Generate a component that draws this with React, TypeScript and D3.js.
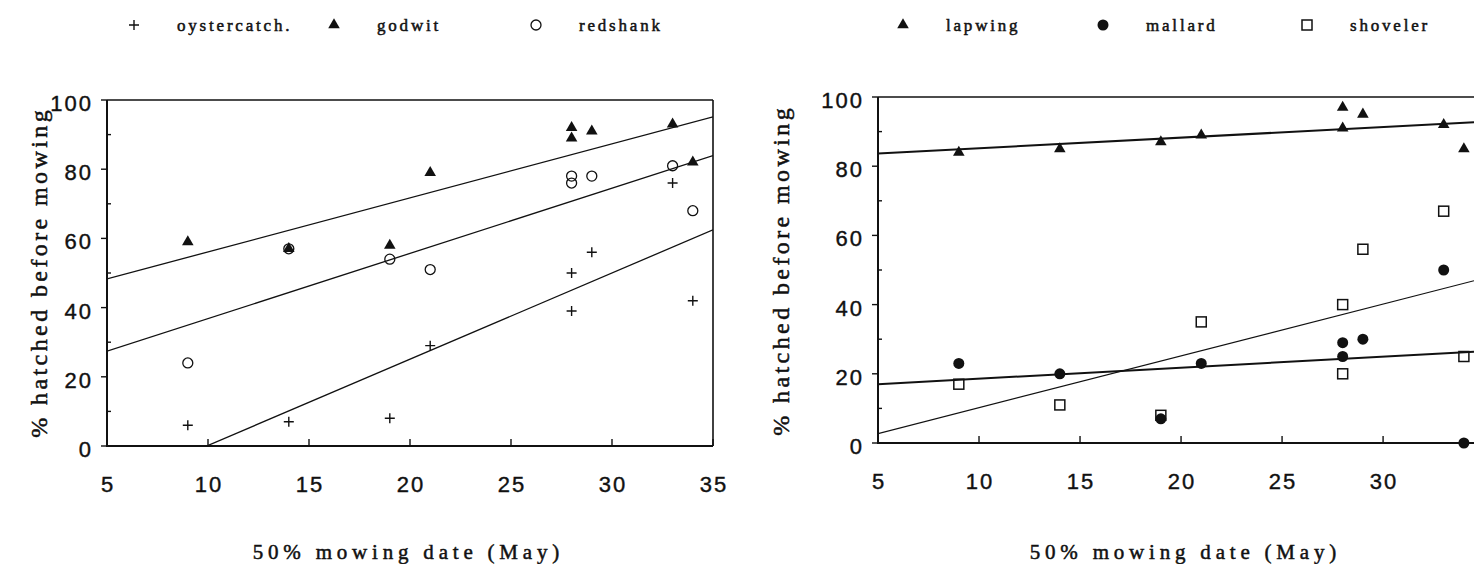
import React, { useEffect, useRef } from 'react';
import * as d3 from 'd3';

// 50% mowing date (May) of each site, shared by both panels
const mowDates = [9, 14, 19, 21, 28, 28, 29, 33, 34];

// % hatched before mowing, left panel
const oystercatcher = [6, 7, 8, 29, 50, 39, 56, 76, 42];
const godwit = [59, 57, 58, 79, 92, 89, 91, 93, 82];
const redshank = [24, 57, 54, 51, 78, 76, 78, 81, 68];

// % hatched before mowing, right panel
const lapwing = [84, 85, 87, 89, 97, 91, 95, 92, 85];
const mallard = [23, 20, 7, 23, 29, 25, 30, 50, 0];
const shoveler = [17, 11, 8, 35, 40, 20, 56, 67, 25];

const xTicksLeft = [5, 10, 15, 20, 25, 30, 35];
const xTicksRight = [5, 10, 15, 20, 25, 30];
const yTicks = [0, 20, 40, 60, 80, 100];
const yMinorTicks = [10, 30, 50, 70, 90];

const SERIF = '"Liberation Serif", "Times New Roman", serif';
const SANS = '"Liberation Sans", Arial, sans-serif';

type Series = { name: string; values: number[]; marker: string; lineWidth: number };

type Panel = {
  id: string;
  left: number;
  right: number;
  top: number;
  bottom: number;
  xDomain: [number, number];
  xTicks: number[];
  rightBorder: boolean;
  series: Series[];
  yTitleX: number;
  yTitleY: number;
  xTitleX: number;
  legendX: number[];
};

const panels: Panel[] = [
  {
    id: 'left',
    left: 107, right: 713, top: 100, bottom: 446,
    xDomain: [5, 35],
    xTicks: xTicksLeft,
    rightBorder: true,
    series: [
      { name: 'oystercatch.', values: oystercatcher, marker: 'plus', lineWidth: 1.3 },
      { name: 'godwit', values: godwit, marker: 'triangle', lineWidth: 1.3 },
      { name: 'redshank', values: redshank, marker: 'circle', lineWidth: 1.3 },
    ],
    yTitleX: 47, yTitleY: 274,
    xTitleX: 406,
    legendX: [134, 334, 536],
  },
  {
    id: 'right',
    left: 878, right: 1474, top: 97, bottom: 443,
    xDomain: [5, 34.5],
    xTicks: xTicksRight,
    rightBorder: false,
    series: [
      { name: 'lapwing', values: lapwing, marker: 'triangle', lineWidth: 2 },
      { name: 'mallard', values: mallard, marker: 'dot', lineWidth: 2 },
      { name: 'shoveler', values: shoveler, marker: 'square', lineWidth: 1.2 },
    ],
    yTitleX: 789, yTitleY: 272,
    xTitleX: 1183,
    legendX: [903, 1103, 1307],
  },
];

// least squares line through the points
const fit = (xs: number[], ys: number[]) => {
  const mx = d3.mean(xs) as number;
  const my = d3.mean(ys) as number;
  const sxy = d3.sum(xs, (x, i) => (x - mx) * (ys[i] - my));
  const sxx = d3.sum(xs, x => (x - mx) ** 2);
  const slope = sxy / sxx;
  return { slope, intercept: my - slope * mx };
};

const drawMarker = (g: any, type: string, x: number, y: number) => {
  if (type === 'plus') {
    g.append('path').attr('d', `M${x - 5},${y}H${x + 5}M${x},${y - 5}V${y + 5}`)
      .attr('stroke', '#111').attr('stroke-width', 1.4).attr('fill', 'none');
  } else if (type === 'triangle') {
    g.append('path').attr('d', d3.symbol().type(d3.symbolTriangle).size(58)())
      .attr('transform', `translate(${x},${y})`).attr('fill', '#111');
  } else if (type === 'circle') {
    g.append('circle').attr('cx', x).attr('cy', y).attr('r', 5)
      .attr('fill', 'none').attr('stroke', '#111').attr('stroke-width', 1.3);
  } else if (type === 'dot') {
    g.append('circle').attr('cx', x).attr('cy', y).attr('r', 5.5).attr('fill', '#111');
  } else if (type === 'square') {
    g.append('rect').attr('x', x - 5).attr('y', y - 5).attr('width', 10).attr('height', 10)
      .attr('fill', 'none').attr('stroke', '#111').attr('stroke-width', 1.5);
  }
};

const drawPanel = (svg: any, p: Panel) => {
  const x = d3.scaleLinear().domain(p.xDomain).range([p.left, p.right]);
  const y = d3.scaleLinear().domain([0, 100]).range([p.bottom, p.top]);
  const g = svg.append('g');

  g.append('clipPath').attr('id', `clip-${p.id}`)
    .append('rect').attr('x', p.left).attr('y', p.top)
    .attr('width', p.right - p.left).attr('height', p.bottom - p.top);

  // frame
  g.append('line').attr('x1', p.left).attr('x2', p.right).attr('y1', p.top).attr('y2', p.top)
    .attr('stroke', '#111').attr('stroke-width', 1.6);
  if (p.rightBorder) {
    g.append('line').attr('x1', p.right).attr('x2', p.right).attr('y1', p.top).attr('y2', p.bottom)
      .attr('stroke', '#111').attr('stroke-width', 1.6);
  }
  g.append('line').attr('x1', p.left).attr('x2', p.left).attr('y1', p.top).attr('y2', p.bottom + 1)
    .attr('stroke', '#111').attr('stroke-width', 2);
  g.append('line').attr('x1', p.left - 1).attr('x2', p.right).attr('y1', p.bottom).attr('y2', p.bottom)
    .attr('stroke', '#111').attr('stroke-width', 2);

  // y ticks
  g.selectAll('.ytick').data(yTicks).enter().append('line')
    .attr('x1', p.left - 6).attr('x2', p.left).attr('y1', (d: number) => y(d)).attr('y2', (d: number) => y(d))
    .attr('stroke', '#111').attr('stroke-width', 1.4);
  g.selectAll('.yminor').data(yMinorTicks).enter().append('line')
    .attr('x1', p.left).attr('x2', p.left + 4).attr('y1', (d: number) => y(d)).attr('y2', (d: number) => y(d))
    .attr('stroke', '#111').attr('stroke-width', 1.4);
  g.selectAll('.ylabel').data(yTicks).enter().append('text')
    .attr('x', p.left - 16).attr('y', (d: number) => y(d) + 11)
    .attr('text-anchor', 'end').attr('font-family', SANS).attr('font-size', 22)
    .attr('letter-spacing', 2).attr('dx', 2).attr('fill', '#111')
    .attr('stroke', '#111').attr('stroke-width', 0.4)
    .text((d: number) => d);

  // x ticks
  g.selectAll('.xtick').data(p.xTicks.filter(d => d > p.xDomain[0])).enter().append('line')
    .attr('x1', (d: number) => x(d)).attr('x2', (d: number) => x(d))
    .attr('y1', p.bottom).attr('y2', p.bottom - 7)
    .attr('stroke', '#111').attr('stroke-width', 1.4);
  g.selectAll('.xlabel').data(p.xTicks).enter().append('text')
    .attr('x', (d: number) => x(d)).attr('y', p.bottom + 46)
    .attr('text-anchor', 'middle').attr('font-family', SANS).attr('font-size', 22)
    .attr('letter-spacing', 2).attr('dx', 1).attr('fill', '#111')
    .attr('stroke', '#111').attr('stroke-width', 0.4)
    .text((d: number) => d);

  // regression lines
  const lines = g.append('g').attr('clip-path', `url(#clip-${p.id})`);
  p.series.forEach(s => {
    const { slope, intercept } = fit(mowDates, s.values);
    const ends = p.xDomain.map(v => [x(v), y(slope * v + intercept)] as [number, number]);
    lines.append('path').attr('d', d3.line()(ends))
      .attr('stroke', '#111').attr('stroke-width', s.lineWidth).attr('fill', 'none');
  });

  // points
  p.series.forEach(s => {
    s.values.forEach((v, i) => drawMarker(g, s.marker, x(mowDates[i]), y(v)));
  });

  // legend
  p.series.forEach((s, i) => {
    drawMarker(g, s.marker, p.legendX[i], 25);
    g.append('text').attr('x', p.legendX[i] + 43).attr('y', 31)
      .attr('font-family', SERIF).attr('font-size', 17).attr('letter-spacing', 2.8)
      .attr('fill', '#111').attr('stroke', '#111').attr('stroke-width', 0.5)
      .text(s.name);
  });

  // axis titles
  g.append('text')
    .attr('transform', `translate(${p.yTitleX},${p.yTitleY}) rotate(-90)`)
    .attr('text-anchor', 'middle').attr('font-family', SERIF).attr('font-size', 24)
    .attr('letter-spacing', 3.4).attr('dx', 1.7).attr('fill', '#111')
    .attr('stroke', '#111').attr('stroke-width', 0.5)
    .text('% hatched before mowing');
  g.append('text')
    .attr('x', p.xTitleX).attr('y', 559)
    .attr('text-anchor', 'middle').attr('font-family', SERIF).attr('font-size', 21)
    .attr('letter-spacing', 4.8).attr('dx', 2.4).attr('fill', '#111')
    .attr('stroke', '#111').attr('stroke-width', 0.5)
    .text('50% mowing date (May)');
};

const App = () => {
  const svgRef = useRef<SVGSVGElement>(null);

  useEffect(() => {
    const svg = d3.select(svgRef.current);
    svg.selectAll('*').remove();
    panels.forEach(p => drawPanel(svg, p));
  }, []);

  return (
    <svg
      ref={svgRef}
      width={1483}
      height={564}
      style={{ position: 'absolute', left: 0, top: 0, background: '#fff' }}
    />
  );
};

export default App;
